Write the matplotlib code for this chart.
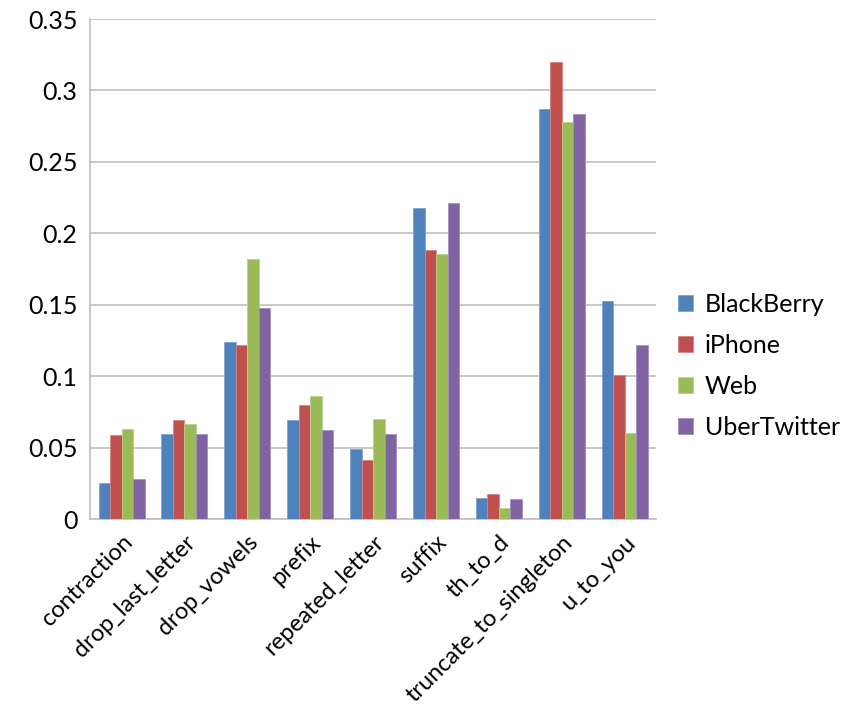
import numpy as np
import matplotlib.pyplot as plt

plt.rcParams['font.family'] = ['Lato', 'DejaVu Sans']

categories = ['contraction', 'drop_last_letter', 'drop_vowels', 'prefix',
              'repeated_letter', 'suffix', 'th_to_d', 'truncate_to_singleton', 'u_to_you']
series_names = ['BlackBerry', 'iPhone', 'Web', 'UberTwitter']
blackberry = [0.025, 0.0595, 0.1237, 0.0693, 0.0492, 0.2177, 0.0147, 0.2867, 0.1528]
iphone = [0.059, 0.0693, 0.1218, 0.0798, 0.0415, 0.188, 0.0173, 0.3201, 0.101]
web = [0.0628, 0.0667, 0.1822, 0.0859, 0.0698, 0.1853, 0.0077, 0.2781, 0.060]
ubertwitter = [0.028, 0.0595, 0.1475, 0.0623, 0.0593, 0.2212, 0.0142, 0.2837, 0.122]
yticks = [0, 0.05, 0.1, 0.15, 0.2, 0.25, 0.3, 0.35]
ytick_labels = ['0', '0.05', '0.1', '0.15', '0.2', '0.25', '0.3', '0.35']

colors = ['#4F81BD', '#C0504D', '#9BBB59', '#8064A2']
edges = ['#7FA3D3', '#D48583', '#B9D28A', '#A48FC0']

fig = plt.figure(figsize=(8.5, 7.18), dpi=100)
ax = fig.add_axes([0.106, 0.277, 0.666, 0.6965])

x = np.arange(len(categories))
w = 0.183
for i, vals in enumerate([blackberry, iphone, web, ubertwitter]):
    ax.bar(x + (i - 1.5) * w, vals, w, color=colors[i], edgecolor=edges[i],
           linewidth=0.6, label=series_names[i], zorder=3)

ax.set_xlim(-0.5, len(categories) - 0.5)
ax.set_ylim(0, 0.35)
ax.set_yticks(yticks)
ax.set_yticklabels(ytick_labels, fontsize=18)
ax.set_xticks(x)
ax.set_xticklabels(categories, rotation=45, ha='right', rotation_mode='anchor', fontsize=17)
ax.tick_params(axis='y', length=0, pad=9)
ax.tick_params(axis='x', length=0, pad=9)
ax.yaxis.grid(True, color='#BFBFBF', linewidth=1.2, zorder=0)
for s in ['top', 'right']:
    ax.spines[s].set_visible(False)
ax.spines['left'].set_color('#BFBFBF')
ax.spines['bottom'].set_color('#BFBFBF')
ax.spines['left'].set_linewidth(1.2)
ax.spines['bottom'].set_linewidth(1.2)

fig.legend(loc='center left', bbox_to_anchor=(0.798, 0.49), frameon=False, fontsize=18,
           handlelength=0.6, handleheight=0.6, labelspacing=0.72, handletextpad=0.45,
           borderaxespad=0, borderpad=0)

fig.savefig('out.png', dpi=100)
